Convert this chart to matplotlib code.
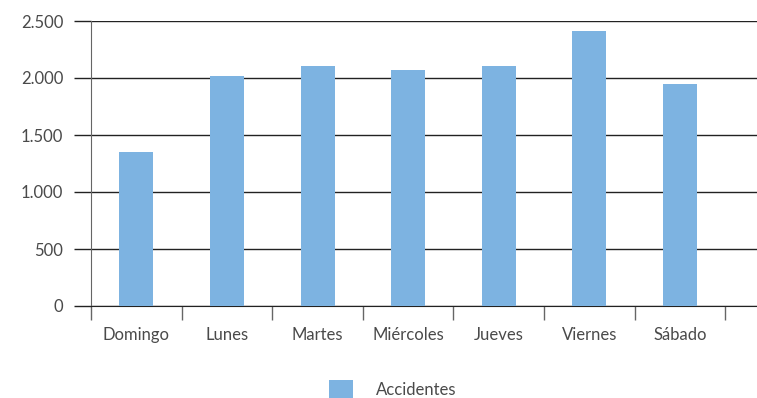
import matplotlib
matplotlib.use('Agg')
import matplotlib.pyplot as plt
from matplotlib.patches import Patch

# Accidentes por día de la semana
dias = ['Domingo', 'Lunes', 'Martes', 'Miércoles', 'Jueves', 'Viernes', 'Sábado']
accidentes = [1350, 2015, 2105, 2070, 2105, 2412, 1947]
y_ticks = [0, 500, 1000, 1500, 2000, 2500]
y_labels = ['0', '500', '1.000', '1.500', '2.000', '2.500']

bar_color = '#7DB3E1'
text_color = '#4a4a4a'

plt.rcParams['font.family'] = ['Lato', 'DejaVu Sans']

fig = plt.figure(figsize=(7.57, 3.98), dpi=100)
ax = fig.add_axes([91 / 757, 92 / 398, 666 / 757, 285 / 398])

x = list(range(len(dias)))
ax.bar(x, accidentes, width=0.375, color=bar_color, zorder=3)

ax.set_ylim(0, 2500)
ax.set_xlim(-0.5, 6.85)

# y axis: ticks continue the gridlines to the left of the spine
ax.set_yticks(y_ticks)
ax.set_yticklabels(y_labels)
ax.tick_params(axis='y', length=12, width=1, color='#222222', pad=8,
               labelsize=12, labelcolor=text_color)
ax.yaxis.grid(True, color='#222222', linewidth=1, zorder=0)

# x axis: tick marks between categories, labels centred under bars
ax.set_xticks([i - 0.5 for i in range(len(dias) + 1)])
ax.set_xticklabels([])
ax.tick_params(axis='x', which='major', length=10, width=1, color='#666666')
ax.set_xticks(x, minor=True)
ax.set_xticklabels(dias, minor=True)
ax.tick_params(axis='x', which='minor', length=0, pad=15,
               labelsize=12, labelcolor=text_color)

ax.spines['top'].set_visible(False)
ax.spines['right'].set_visible(False)
ax.spines['left'].set_color('#666666')
ax.spines['bottom'].set_color('#222222')
ax.set_axisbelow(True)

handle = Patch(facecolor=bar_color, edgecolor='none')
fig.legend([handle], ['Accidentes'], loc='center', bbox_to_anchor=(393 / 757, 1 - 389 / 398),
           frameon=False, fontsize=12, labelcolor=text_color,
           handlelength=1.4, handleheight=1.2, handletextpad=1.4)

fig.savefig('out.png', dpi=100)
